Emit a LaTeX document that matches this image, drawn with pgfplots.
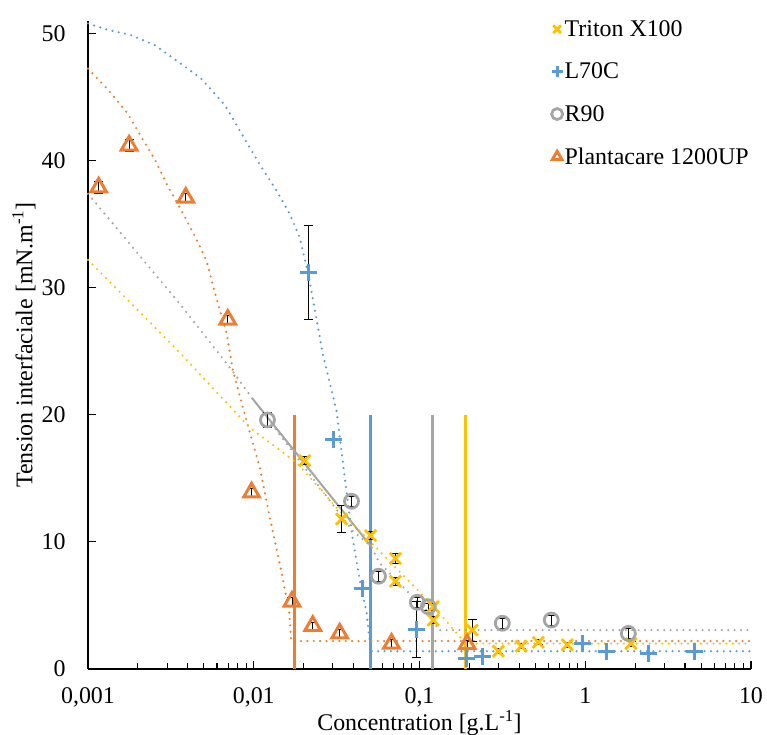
\documentclass[border=0pt]{standalone}
\usepackage{pgfplots}
\pgfplotsset{compat=1.18}
\usepackage{fontspec}
\setmainfont{Liberation Serif}
\usetikzlibrary{calc}
\definecolor{cy}{HTML}{FFC000}
\definecolor{cb}{HTML}{5B9BD5}
\definecolor{cg}{HTML}{A5A5A5}
\definecolor{co}{HTML}{ED7D31}
\tikzset{tl/.style={line width=2.4bp, dash pattern=on 0pt off 6.4bp, line cap=round}}
\pgfplotsset{eb/.style={error bars/.cd, y dir=both, y explicit,
  error bar style={black, line width=0.8bp, solid},
  error mark options={rotate=90, black, mark size=4.5bp, line width=0.8bp, solid}}}
\begin{document}
\begin{tikzpicture}
\begin{axis}[name=ax, scale only axis, width=663bp, height=648bp,
  xmode=log, xmin=0.001, xmax=10, ymin=0, ymax=51,
  axis lines*=left, axis line style={black, line width=1.4bp},
  tick align=inside, major tick length=8bp, minor tick length=6bp,
  tick style={black, line width=1.1bp},
  xtick={0.001,0.01,0.1,1,10},
  xticklabels={{0,001},{0,01},{0,1},{1},{10}},
  ytick={0,10,20,30,40,50},
  /pgf/number format/assume math mode=true,
  tick label style={font=\fontsize{24}{28}\selectfont},
  xticklabel style={yshift=-15bp},
  yticklabel style={xshift=-19bp},
  label style={font=\fontsize{24}{28}\selectfont},
  xlabel={Concentration [g.L\textsuperscript{-1}]},
  ylabel={Tension interfaciale [mN.m\textsuperscript{-1}]},
  xlabel style={at={(axis description cs:0.5,-0.084)}, anchor=center},
  ylabel style={at={(axis description cs:-0.0965,0.5)}, anchor=center},
  legend style={at={(axis description cs:0.699,1.004)}, anchor=north west, draw=none, fill=none,
    font=\fontsize{24}{28}\selectfont, row sep=21bp, inner sep=0pt},
  legend image post style={mark size=5.5bp},
  legend cell align=left,
  clip=false,
]
% vertical CMC lines
\addplot[co, line width=3bp, forget plot] coordinates {(0.0177,0) (0.0177,20)};
\addplot[cb, line width=3bp, forget plot] coordinates {(0.0507,0) (0.0507,20)};
\addplot[cg, line width=3bp, forget plot] coordinates {(0.12,0) (0.12,20)};
\addplot[cy, line width=3bp, forget plot] coordinates {(0.19,0) (0.19,20)};
% trend lines
\addplot[cb, tl, forget plot] coordinates {(0.001,50.8) (0.00132,50.3) (0.00181,49.9) (0.00253,49.1) (0.00349,47.8) (0.00479,46.5) (0.00669,44.4) (0.00883,41.7) (0.011,39.6) (0.0138,37.6) (0.0165,35.8) (0.0189,34.0) (0.0214,31.0) (0.0261,24.8) (0.0316,20.3) (0.0344,16.4) (0.0368,13.3) (0.0395,10.3) (0.0436,7.0) (0.048,4.4) (0.050,2.3) (0.0514,1.4) (10,1.4)};
\addplot[co, tl, forget plot] coordinates {(0.001,47.25) (0.00132,45.6) (0.00174,43.7) (0.00209,41.9) (0.00253,40.1) (0.00303,38.0) (0.00373,35.9) (0.0046,33.6) (0.0052,32.1) (0.00583,29.6) (0.00687,26.4) (0.00749,23.5) (0.00906,19.5) (0.01086,15.9) (0.01251,11.9) (0.0145,8.0) (0.0164,4.4) (0.0168,2.2) (10,2.2)};
\addplot[cg, tl, forget plot] coordinates {(0.001,37.4) (0.0036,28.7) (0.0072,23.7) (0.0098,21.3) (0.0394,10.9) (0.0514,9.6) (0.057,8.4) (0.097,5.3) (0.115,4.4) (0.13,3.06) (10,3.06)};
\addplot[cg, line width=2bp, forget plot] coordinates {(0.0098,21.3) (0.0514,9.6)};
\addplot[cy, tl, forget plot] coordinates {(0.001,32.2) (0.00358,24.9) (0.00945,19.0) (0.0183,16.2) (0.0316,12.7) (0.0507,10.0) (0.12,5.0) (0.19,2.0) (10,2.0)};
% data
\addplot[only marks, mark=x, mark size=8bp, cy, mark options={line width=2.8bp}, eb] table[x=x, y=y, y error=e] {
x y e
0.0203 16.4 0.3
0.0339 11.8 1.05
0.0507 10.5 0.3
0.0716 8.7 0.4
0.0716 6.9 0.3
0.121 4.9 0.3
0.121 3.85 0.3
0.208 3.06 0.85
0.299 1.4 0.2
0.411 1.8 0.2
0.521 2.1 0.2
0.78 1.9 0.2
1.89 2.0 0.2
};
\addlegendentry{Triton X100}
\addplot[only marks, mark=+, mark size=8.5bp, cb, mark options={line width=2.8bp}, eb] table[x=x, y=y, y error=e] {
x y e
0.0214 31.2 3.7
0.0303 18.05 0
0.0454 6.36 0
0.096 3.1 2.2
0.192 0.8 0
0.24 1.0 0
0.96 2.0 0
1.34 1.4 0
2.4 1.25 0
4.54 1.4 0
};
\addlegendentry{L70C}
\addplot[only marks, mark=o, mark size=7bp, cg, mark options={line width=2.8bp}, eb] table[x=x, y=y, y error=e] {
x y e
0.0121 19.6 0.6
0.0389 13.2 0.4
0.0566 7.3 0.4
0.097 5.25 0.4
0.113 4.9 0.3
0.316 3.6 0.4
0.624 3.85 0.4
1.82 2.8 0.4
};
\addlegendentry{R90}
\addplot[only marks, mark=triangle, mark size=9bp, co, mark options={line width=3bp, fill=white}, eb] table[x=x, y=y, y error=e] {
x y e
0.00116 37.9 0.5
0.00177 41.2 0.5
0.00389 37.1 0.35
0.00697 27.5 0.35
0.0097 13.9 0.3
0.017 5.3 0.3
0.0227 3.4 0.3
0.033 2.8 0.3
0.0678 2.0 0.3
0.194 1.96 0.3
};
\addlegendentry{Plantacare 1200UP}
\end{axis}
\pgfresetboundingbox
\path[use as bounding box] ($(ax.south west)+(-88bp,-66bp)$) rectangle ($(ax.north east)+(16bp,21bp)$);
\end{tikzpicture}
\end{document}
